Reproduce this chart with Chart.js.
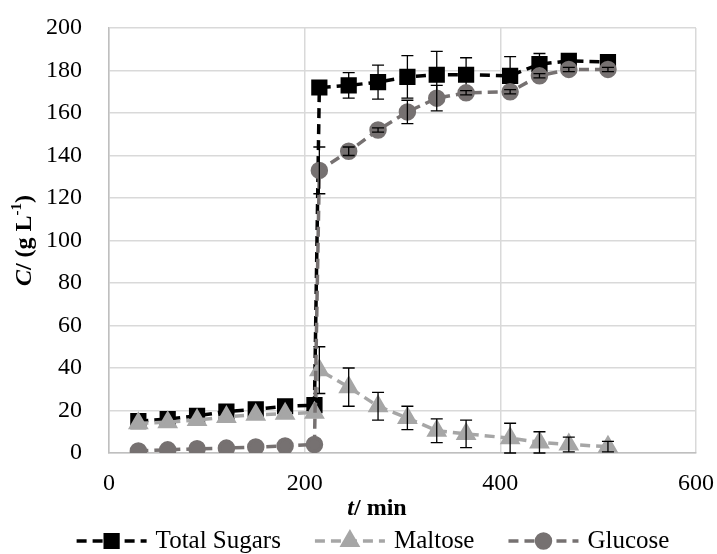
<!DOCTYPE html>
<html>
<head>
<meta charset="utf-8">
<script src="https://cdn.jsdelivr.net/npm/chart.js@4"></script>
<style>
  html, body { margin:0; padding:0; background:#fff; }
</style>
</head>
<body>
<canvas id="sugarChart" width="717" height="554"></canvas>
<script>
const times = [30, 60, 90, 120, 150, 180, 210, 215, 245, 275, 305, 335, 365, 410, 440, 470, 510];
const totalSugars = [15, 16, 17.5, 19.5, 20.5, 22, 22.5, 172, 173, 174.5, 177, 178, 178, 177.5, 183, 184.5, 184];
const totalErr    = [0.5, 0.5, 0.5, 0.5, 0.5, 0.5, 0.5, 1, 6, 8, 10, 11, 8, 9, 5, 2, 2];
const maltose     = [14, 14.5, 15.5, 17, 18, 18.5, 19, 39, 31, 22, 16.5, 10.5, 9, 7, 5, 4, 3];
const maltoseErr  = [0.5, 0.5, 0.5, 0.5, 0.5, 0.5, 0.5, 11, 9, 6.5, 5.5, 5.6, 6.5, 7, 5, 3.5, 2.5];
const glucose     = [1, 1.5, 2, 2.3, 2.8, 3.3, 4, 133, 142, 152, 160.5, 167, 169.5, 170, 177.5, 180.5, 180.5];
const glucoseErr  = [0.3, 0.3, 0.3, 0.3, 0.3, 0.3, 0.3, 11, 2, 1, 5.5, 6, 1, 1, 1, 1, 1];
const xTicks = [0, 200, 400, 600];
const yTicks = [0, 20, 40, 60, 80, 100, 120, 140, 160, 180, 200];

const serif = '"Liberation Serif", "Times New Roman", serif';

function pts(ys) { return times.map((t, i) => ({ x: t, y: ys[i] })); }

// error bars drawn right after their own series
const errorBars = {
  id: 'errorBars',
  afterDatasetDraw(chart, args) {
    const ds = chart.data.datasets[args.index];
    if (!ds.errors) return;
    const { ctx, scales: { x, y } } = chart;
    ctx.save();
    ctx.strokeStyle = '#000';
    ctx.lineWidth = 1.3;
    ds.data.forEach((p, i) => {
      const e = ds.errors[i];
      const px = x.getPixelForValue(p.x);
      const top = y.getPixelForValue(p.y + e);
      const bot = y.getPixelForValue(p.y - e);
      if (bot - top < 3) return;
      ctx.beginPath();
      ctx.moveTo(px, top); ctx.lineTo(px, bot);
      ctx.moveTo(px - 6, top); ctx.lineTo(px + 6, top);
      ctx.moveTo(px - 6, bot); ctx.lineTo(px + 6, bot);
      ctx.stroke();
    });
    ctx.restore();
  }
};

function drawRich(ctx, parts, cx, cy) {
  let w = 0;
  parts.forEach(p => { ctx.font = p.f; w += ctx.measureText(p.t).width; });
  let x = cx - w / 2;
  parts.forEach(p => {
    ctx.font = p.f;
    ctx.fillText(p.t, x, cy + (p.dy || 0));
    x += ctx.measureText(p.t).width;
  });
}

const titlesAndLegend = {
  id: 'titlesAndLegend',
  afterDraw(chart) {
    const ctx = chart.ctx;
    const ca = chart.chartArea;
    ctx.save();
    ctx.fillStyle = '#000';
    ctx.textBaseline = 'middle';
    ctx.textAlign = 'left';

    drawRich(ctx, [
      { t: 't', f: 'italic bold 24px ' + serif },
      { t: '/ min', f: 'bold 24px ' + serif }
    ], 377, 509);

    ctx.save();
    ctx.translate(25, (ca.top + ca.bottom) / 2);
    ctx.rotate(-Math.PI / 2);
    drawRich(ctx, [
      { t: 'C', f: 'italic bold 24px ' + serif },
      { t: '/ (g L', f: 'bold 24px ' + serif },
      { t: '-1', f: 'bold 15px ' + serif, dy: -8 },
      { t: ')', f: 'bold 24px ' + serif }
    ], 0, 0);
    ctx.restore();

    // legend: dashed line with marker, then label
    const lineLen = 70, gap = 9, itemGap = 34, ly = 541;
    ctx.font = '25px ' + serif;
    const items = chart.data.datasets.map(ds => ({ ds, w: lineLen + gap + ctx.measureText(ds.label).width }));
    const total = items.reduce((s, it) => s + it.w, 0) + itemGap * (items.length - 1);
    let x = 373 - total / 2;
    items.forEach(({ ds, w }) => {
      ctx.save();
      ctx.strokeStyle = ds.borderColor;
      ctx.lineWidth = ds.borderWidth;
      ctx.setLineDash(ds.borderDash);
      ctx.beginPath();
      ctx.moveTo(x, ly); ctx.lineTo(x + lineLen, ly);
      ctx.stroke();
      ctx.setLineDash([]);
      ctx.fillStyle = ds.pointBackgroundColor;
      ctx.strokeStyle = ds.pointBorderColor;
      Chart.helpers.drawPoint(ctx, { pointStyle: ds.pointStyle, radius: ds.pointRadius, rotation: 0, borderWidth: 1 }, x + lineLen / 2, ly);
      ctx.restore();
      ctx.font = '25px ' + serif;
      ctx.fillText(ds.label, x + lineLen + gap, ly);
      x += w + itemGap;
    });
    ctx.restore();
  }
};

function drawChart() {
  const ctx = document.getElementById('sugarChart').getContext('2d');
  new Chart(ctx, {
    type: 'line',
    data: {
      datasets: [
        { label: 'Total Sugars', data: pts(totalSugars), errors: totalErr, order: 3,
          borderColor: '#000000', borderWidth: 3.5, borderDash: [10, 6],
          pointStyle: 'rect', pointRadius: 9, pointBackgroundColor: '#000000', pointBorderColor: '#000000' },
        { label: 'Maltose', data: pts(maltose), errors: maltoseErr, order: 2,
          borderColor: '#a6a6a6', borderWidth: 3.5, borderDash: [10, 6],
          pointStyle: 'triangle', pointRadius: 8.5, pointBackgroundColor: '#a6a6a6', pointBorderColor: '#a6a6a6' },
        { label: 'Glucose', data: pts(glucose), errors: glucoseErr, order: 1,
          borderColor: '#767171', borderWidth: 3.5, borderDash: [10, 6],
          pointStyle: 'circle', pointRadius: 7, pointBackgroundColor: '#767171', pointBorderColor: '#767171' }
      ]
    },
    options: {
      responsive: false,
      animation: false,
      devicePixelRatio: 1,
      layout: { padding: { left: 0, right: 21, top: 28, bottom: 0 } },
      elements: { line: { tension: 0, fill: false } },
      plugins: { legend: { display: false }, tooltip: { enabled: false } },
      scales: {
        x: {
          type: 'linear', min: 0, max: 600,
          afterBuildTicks: s => { s.ticks = xTicks.map(v => ({ value: v })); },
          afterFit: s => { s.height = 101; s.paddingLeft = 0; s.paddingRight = 0; },
          grid: { color: '#d9d9d9', lineWidth: 1.5, drawTicks: false },
          border: { color: '#bfbfbf', width: 1.5 },
          ticks: { padding: 16, color: '#000', font: { family: serif, size: 24 }, maxRotation: 0 }
        },
        y: {
          min: 0, max: 200,
          afterBuildTicks: s => { s.ticks = yTicks.map(v => ({ value: v })); },
          afterFit: s => { s.width = 109; s.paddingTop = 0; s.paddingBottom = 0; },
          grid: { color: '#d9d9d9', lineWidth: 1.5, drawTicks: false },
          border: { color: '#bfbfbf', width: 1.5 },
          ticks: { padding: 27, color: '#000', font: { family: serif, size: 24 } }
        }
      }
    },
    plugins: [errorBars, titlesAndLegend]
  });
}

Promise.all([
  document.fonts.load('24px "Liberation Serif"'),
  document.fonts.load('bold 24px "Liberation Serif"'),
  document.fonts.load('italic bold 24px "Liberation Serif"')
]).then(drawChart, drawChart);
</script>
</body>
</html>
